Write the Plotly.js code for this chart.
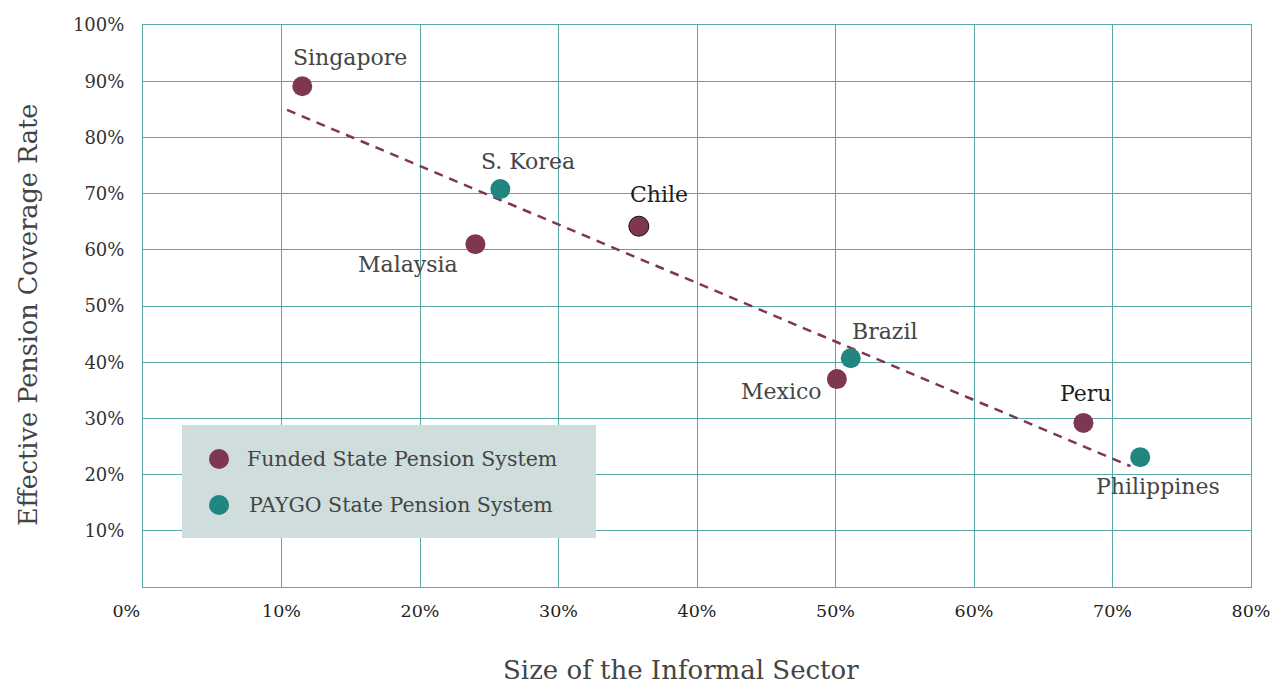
<!DOCTYPE html>
<html>
<head>
<meta charset="utf-8">
<script src="https://cdn.plot.ly/plotly-3.0.1.min.js"></script>
<style>html,body{margin:0;padding:0;background:#fff;}#chart{width:1273px;height:685px;}</style>
</head>
<body>
<div id="chart"></div>
<script>
// Data
const fundedCountries = ["Singapore", "Malaysia", "Chile", "Mexico", "Peru"];
const fundedInformal = [11.5, 24.0, 35.8, 50.1, 67.9];
const fundedCoverage = [89.1, 61.0, 64.2, 37.0, 29.2];

const paygoCountries = ["S. Korea", "Brazil", "Philippines"];
const paygoInformal = [25.8, 51.1, 72.0];
const paygoCoverage = [70.8, 40.7, 23.1];

const trendInformal = [10.4, 71.3];
const trendCoverage = [84.9, 21.5];

const seriesNames = ["Funded State Pension System", "PAYGO State Pension System"];
const xTitle = "Size of the Informal Sector";
const yTitle = "Effective Pension Coverage Rate";

const xTickVals = [0, 10, 20, 30, 40, 50, 60, 70, 80];
const xTickText = ["0%\u00a0\u00a0\u00a0\u00a0\u00a0\u00a0", "10%", "20%", "30%", "40%", "50%", "60%", "70%", "80%"];
const yTickVals = [10, 20, 30, 40, 50, 60, 70, 80, 90, 100];
const yTickText = ["10%", "20%", "30%", "40%", "50%", "60%", "70%", "80%", "90%", "100%"];

// Styling
const MAROON = "#7f3751";
const TEAL = "#228680";
const GRID = "#5aa8a5";
const FONT = "DejaVu Serif, serif";

// label offsets (pixels) per country name
const labelShift = {
  "Singapore": [48, 29], "S. Korea": [28, 28], "Chile": [20, 32], "Malaysia": [-67, -20],
  "Brazil": [34, 27], "Mexico": [-55, -12], "Peru": [3, 29], "Philippines": [18, -29]
};
const darkLabels = {"Chile": true, "Peru": true};

const traces = [
  {
    x: trendInformal, y: trendCoverage, mode: "lines", showlegend: false, hoverinfo: "skip",
    line: {color: MAROON, width: 2.5, dash: "9px,7px"}
  },
  {
    x: fundedInformal, y: fundedCoverage, text: fundedCountries, mode: "markers",
    name: seriesNames[0], showlegend: false,
    marker: {color: MAROON, size: 20,
      line: {color: fundedCountries.map(c => c === "Chile" ? "#111" : MAROON),
             width: fundedCountries.map(c => c === "Chile" ? 1 : 0)}}
  },
  {
    x: paygoInformal, y: paygoCoverage, text: paygoCountries, mode: "markers",
    name: seriesNames[1], showlegend: false,
    marker: {color: TEAL, size: 20, line: {width: 0}}
  }
];

const annotations = [];
function addLabels(names, xs, ys) {
  names.forEach((n, i) => {
    const s = labelShift[n];
    annotations.push({
      x: xs[i], y: ys[i], xref: "x", yref: "y", text: n, showarrow: false,
      xshift: s[0], yshift: s[1], xanchor: "center", yanchor: "middle",
      font: {family: FONT, size: 22, color: darkLabels[n] ? "#1e1e1e" : "#454545"}
    });
  });
}
addLabels(fundedCountries, fundedInformal, fundedCoverage);
addLabels(paygoCountries, paygoInformal, paygoCoverage);

// axis titles
annotations.push({
  xref: "paper", yref: "paper", x: 0.4856, y: -0.1477, xanchor: "center", yanchor: "middle",
  showarrow: false, borderpad: 0, text: xTitle, font: {family: FONT, size: 26, color: "#444"}
});
annotations.push({
  xref: "paper", yref: "paper", x: -0.1038, y: 0.484, xanchor: "center", yanchor: "middle",
  showarrow: false, text: yTitle, textangle: -90, font: {family: FONT, size: 25.5, color: "#444"}
});

// manual legend (box, symbols, texts)
const legendColors = [MAROON, TEAL];
const legendRowY = [0.2278, 0.1459];
const shapes = [{
  type: "rect", xref: "paper", yref: "paper",
  x0: 0.0352, x1: 0.4088, y0: 0.0872, y1: 0.2883,
  fillcolor: "#cfdddd", line: {width: 0}, layer: "above"
}];
seriesNames.forEach((n, i) => {
  shapes.push({
    type: "circle", xref: "paper", yref: "paper",
    xsizemode: "pixel", ysizemode: "pixel",
    xanchor: 0.0686, yanchor: legendRowY[i],
    x0: -10, x1: 10, y0: -10, y1: 10,
    fillcolor: legendColors[i], line: {width: 0}, layer: "above"
  });
  annotations.push({
    xref: "paper", yref: "paper", x: i === 0 ? 0.0921 : 0.0939, y: legendRowY[i],
    xanchor: "left", yanchor: "middle", showarrow: false, text: n,
    font: {family: FONT, size: 20.5, color: "#444"}
  });
});

const layout = {
  width: 1273, height: 685,
  margin: {l: 143, r: 22, t: 25, b: 98, pad: 0},
  paper_bgcolor: "#fff", plot_bgcolor: "#fff",
  font: {family: FONT, color: "#444"},
  showlegend: false,
  xaxis: {
    range: [0, 80], tickvals: xTickVals, ticktext: xTickText,
    showgrid: true, gridcolor: GRID, gridwidth: 1, zeroline: false,
    showline: true, mirror: true, linecolor: GRID, linewidth: 1,
    ticks: "", ticklabelstandoff: 8,
    tickfont: {family: FONT, size: 17.5, color: "#222"}
  },
  yaxis: {
    range: [0, 100], tickvals: yTickVals, ticktext: yTickText,
    showgrid: true, gridcolor: GRID, gridwidth: 1, zeroline: false,
    showline: true, mirror: true, linecolor: GRID, linewidth: 1,
    ticks: "", ticklabelstandoff: 14,
    tickfont: {family: FONT, size: 18, color: "#333"}
  },
  shapes: shapes,
  annotations: annotations
};

Plotly.newPlot("chart", traces, layout, {displayModeBar: false, responsive: false});
</script>
</body>
</html>
